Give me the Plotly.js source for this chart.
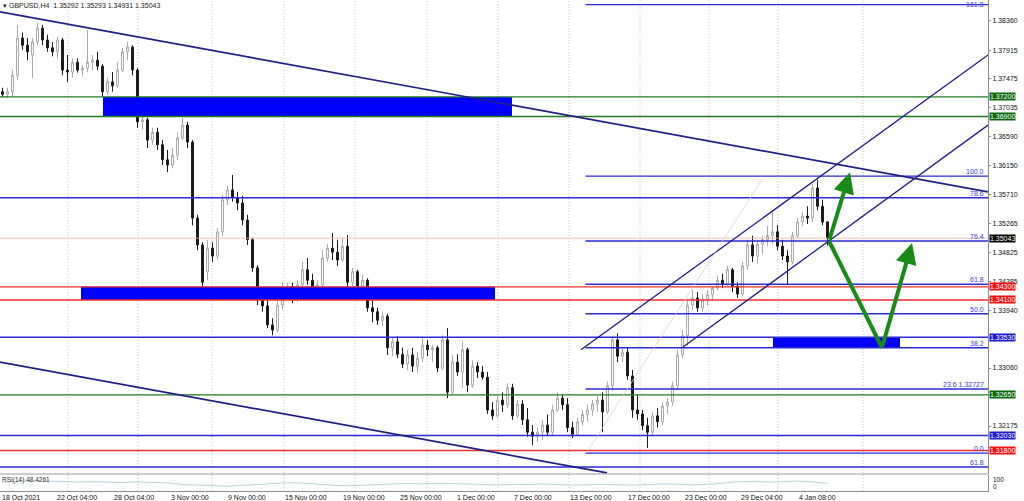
<!DOCTYPE html>
<html><head><meta charset="utf-8">
<script src="https://cdn.plot.ly/plotly-3.0.1.min.js"></script>
<style>html,body{margin:0;padding:0;background:#fff}#chart{width:1024px;height:501px}</style>
</head><body><div id="chart"></div>
<script>
// ---- candle data (GBPUSD H4, one candle ≈ two H4 bars) ----
const openP = [1.3728,1.3724,1.3728,1.3753,1.3810,1.3799,1.3784,1.3804,1.3825,1.3807,
1.3795,1.3789,1.3807,1.3761,1.3758,1.3773,1.3761,1.3764,1.3773,1.3776,
1.3767,1.3728,1.3743,1.3737,1.3761,1.3789,1.3796,1.3761,1.3682,1.3685,
1.3654,1.3666,1.3647,1.3624,1.3616,1.3631,1.3657,1.3677,1.3651,1.3535,
1.3494,1.3453,1.3489,1.3477,1.3514,1.3563,1.3578,1.3566,1.3558,1.3532,
1.3502,1.3459,1.3410,1.3401,1.3372,1.3364,1.3402,1.3425,1.3430,1.3413,
1.3433,1.3456,1.3440,1.3428,1.3433,1.3474,1.3489,1.3483,1.3471,1.3492,
1.3437,1.3453,1.3431,1.3440,1.3398,1.3392,1.3379,1.3385,1.3337,1.3346,
1.3327,1.3312,1.3326,1.3309,1.3321,1.3341,1.3334,1.3337,1.3306,1.3349,
1.3269,1.3315,1.3300,1.3334,1.3280,1.3309,1.3300,1.3292,1.3242,1.3233,
1.3257,1.3250,1.3276,1.3233,1.3251,1.3227,1.3208,1.3202,1.3208,1.3219,
1.3208,1.3242,1.3260,1.3250,1.3215,1.3205,1.3224,1.3235,1.3242,1.3251,
1.3257,1.3239,1.3279,1.3349,1.3324,1.3330,1.3294,1.3242,1.3236,1.3218,
1.3208,1.3233,1.3224,1.3248,1.3254,1.3279,1.3326,1.3355,1.3402,1.3413,
1.3398,1.3410,1.3418,1.3428,1.3440,1.3434,1.3456,1.3431,1.3419,1.3462,
1.3494,1.3477,1.3495,1.3502,1.3508,1.3514,1.3492,1.3477,1.3468,1.3508,
1.3529,1.3538,1.3535,1.3581,1.3553,1.35292];
const highP = [1.3734,1.3734,1.3761,1.3830,1.3818,1.3810,1.3810,1.3833,1.3830,1.3815,
1.3804,1.3812,1.3810,1.3784,1.3779,1.3779,1.3769,1.3822,1.3784,1.3789,
1.3770,1.3749,1.3758,1.3773,1.3795,1.3804,1.3799,1.3764,1.3692,1.3688,
1.3673,1.3673,1.3654,1.3639,1.3642,1.3666,1.3688,1.3682,1.3654,1.3540,
1.3498,1.3502,1.3498,1.3520,1.3570,1.3585,1.3601,1.3575,1.3569,1.3540,
1.3505,1.3463,1.3421,1.3413,1.3382,1.3410,1.3437,1.3436,1.3436,1.3440,
1.3468,1.3474,1.3450,1.3440,1.3486,1.3495,1.3512,1.3502,1.3505,1.3509,
1.3459,1.3456,1.3448,1.3443,1.3410,1.3398,1.3392,1.3389,1.3352,1.3355,
1.3337,1.3334,1.3337,1.3330,1.3352,1.3349,1.3341,1.3340,1.3356,1.3367,
1.3326,1.3327,1.3346,1.3337,1.3318,1.3315,1.3309,1.3300,1.3254,1.3265,
1.3269,1.3283,1.3282,1.3257,1.3257,1.3245,1.3219,1.3215,1.3227,1.3235,
1.3250,1.3269,1.3265,1.3260,1.3224,1.3230,1.3242,1.3250,1.3257,1.3263,
1.3269,1.3285,1.3355,1.3359,1.3337,1.3337,1.3303,1.3265,1.3242,1.3230,
1.3239,1.3245,1.3254,1.3260,1.3285,1.3334,1.3364,1.3410,1.3425,1.3422,
1.3419,1.3425,1.3431,1.3447,1.3450,1.3462,1.3459,1.3437,1.3468,1.3502,
1.3508,1.3502,1.3508,1.3523,1.3544,1.3524,1.3502,1.3486,1.3514,1.3535,
1.3544,1.3553,1.3587,1.3593,1.3563,1.35293];
const lowP = [1.3720,1.3718,1.3721,1.3746,1.3792,1.3776,1.3749,1.3799,1.3799,1.3789,
1.3782,1.3779,1.3753,1.3743,1.3749,1.3757,1.3753,1.3758,1.3761,1.3761,
1.3720,1.3723,1.3728,1.3734,1.3758,1.3776,1.3753,1.3673,1.3670,1.3642,
1.3647,1.3639,1.3616,1.3605,1.3611,1.3624,1.3654,1.3642,1.3524,1.3486,
1.3430,1.3440,1.3468,1.3471,1.3508,1.3555,1.3560,1.3547,1.3524,1.3494,
1.3453,1.3402,1.3392,1.3367,1.3356,1.3361,1.3395,1.3413,1.3405,1.3407,
1.3425,1.3433,1.3421,1.3413,1.3425,1.3468,1.3471,1.3462,1.3468,1.3428,
1.3431,1.3425,1.3425,1.3392,1.3376,1.3372,1.3370,1.3326,1.3324,1.3321,
1.3306,1.3303,1.3300,1.3298,1.3315,1.3324,1.3315,1.3300,1.3303,1.3260,
1.3265,1.3294,1.3276,1.3269,1.3276,1.3291,1.3288,1.3236,1.3227,1.3230,
1.3239,1.3245,1.3227,1.3230,1.3219,1.3201,1.3188,1.3193,1.3196,1.3202,
1.3204,1.3239,1.3242,1.3208,1.3199,1.3202,1.3218,1.3224,1.3233,1.3239,
1.3208,1.3236,1.3272,1.3315,1.3315,1.3288,1.3230,1.3227,1.3211,1.3184,
1.3202,1.3215,1.3218,1.3236,1.3248,1.3272,1.3321,1.3340,1.3395,1.3392,
1.3392,1.3401,1.3410,1.3425,1.3428,1.3431,1.3422,1.3413,1.3416,1.3456,
1.3468,1.3465,1.3480,1.3492,1.3495,1.3486,1.3471,1.3433,1.3465,1.3505,
1.3523,1.3526,1.3529,1.3547,1.3524,1.34931];
const closeP = [1.3724,1.3728,1.3753,1.3810,1.3799,1.3789,1.3804,1.3825,1.3807,1.3795,
1.3789,1.3807,1.3761,1.3758,1.3773,1.3761,1.3764,1.3773,1.3776,1.3767,
1.3728,1.3743,1.3737,1.3761,1.3789,1.3796,1.3761,1.3682,1.3685,1.3654,
1.3666,1.3647,1.3624,1.3616,1.3631,1.3657,1.3677,1.3651,1.3535,1.3494,
1.3437,1.3489,1.3477,1.3514,1.3563,1.3578,1.3566,1.3558,1.3532,1.3502,
1.3459,1.3410,1.3401,1.3372,1.3364,1.3402,1.3425,1.3430,1.3413,1.3433,
1.3456,1.3440,1.3428,1.3433,1.3474,1.3489,1.3483,1.3471,1.3492,1.3437,
1.3453,1.3431,1.3440,1.3398,1.3392,1.3379,1.3385,1.3337,1.3346,1.3327,
1.3312,1.3326,1.3309,1.3321,1.3341,1.3334,1.3337,1.3306,1.3349,1.3269,
1.3315,1.3300,1.3334,1.3280,1.3309,1.3300,1.3292,1.3242,1.3233,1.3257,
1.3250,1.3276,1.3233,1.3251,1.3227,1.3208,1.3202,1.3208,1.3219,1.3208,
1.3242,1.3260,1.3250,1.3215,1.3205,1.3224,1.3235,1.3242,1.3251,1.3257,
1.3239,1.3279,1.3349,1.3324,1.3330,1.3294,1.3242,1.3236,1.3218,1.3208,
1.3233,1.3224,1.3248,1.3254,1.3279,1.3326,1.3355,1.3402,1.3413,1.3398,
1.3410,1.3418,1.3428,1.3440,1.3434,1.3456,1.3431,1.3419,1.3462,1.3494,
1.3477,1.3495,1.3502,1.3508,1.3514,1.3492,1.3477,1.3468,1.3508,1.3529,
1.3538,1.3535,1.3581,1.3553,1.3529,1.35043];

// RSI(14), one reading every 3 candles
const rsiVals = [55,60,64,62,58,56,58,55,53,57,55,50,40,36,33,30,35,42,48,52,
50,42,36,32,34,40,44,47,45,48,46,43,40,38,42,40,44,41,37,39,
42,39,37,40,45,42,38,41,50,58,60,56,58,62,57,48];

// time axis labels and the candle index where each label starts
const tickLabels = ["18 Oct 2021","22 Oct 04:00","28 Oct 04:00","3 Nov 00:00","9 Nov 00:00","15 Nov 00:00","19 Nov 00:00","25 Nov 00:00","1 Dec 00:00","7 Dec 00:00","13 Dec 00:00","17 Dec 00:00","23 Dec 00:00","29 Dec 04:00","4 Jan 08:00"];
const tickBars = [-0.5,10.5,21.9,33.3,44.7,56.1,67.7,79.1,90.5,101.9,113.1,124.7,136.1,147.3,158.9];
const gridBars = [13.1,27.1,41.9,56.3,70.5,84.9,99.1,113.3,127.5,141.3,155.1,172.1];

// price axis
const priceTicks = [1.38360,1.37915,1.37475,1.37035,1.36590,1.36150,1.35710,1.35265,1.34825,1.34385,1.33940,1.33060,1.32175];

// horizontal levels across the whole chart
const levelPrices = [1.3720,1.3690,1.3566,1.3430,1.3410,1.3353,1.3265,1.3203,1.3180,1.3155];
const levelKinds  = ["green","green","blue","red","red","blue","green","blue","red","blue"];
// price boxes on the right scale
const boxPrices = [1.37200,1.36900,1.35043,1.34300,1.34100,1.33530,1.32650,1.32030,1.31800];
const boxKinds  = ["green","green","black","red","red","blue","green","blue","red"];
// Fibonacci retracement
const fibRatios = ["161.8","100.0","76.4","61.8","50.0","38.2","23.6 1.32727","0.0"];
const fibPrices = [1.3861,1.3599,1.3500,1.3434,1.3389,1.3337,1.3274,1.3176];
const fibStartBar = 116.6;
// supply / demand zones
const zoneStart = [20.1,15.7,154.1];
const zoneEnd   = [101.9,98.5,179.5];
const zoneTop   = [1.3720,1.3430,1.3353];
const zoneBot   = [1.3690,1.3410,1.3337];
// trend lines [bar0, price0, bar1, price1]
const trendA = [-0.5,1.3850,197.1,1.3575];
const trendB = [-0.5,1.3315,120.9,1.3146];
const chanUp = [115.7,1.3334,197.1,1.3784];
const chanLo = [136.1,1.3338,197.1,1.3677];
const fibTrend = [116.9,1.3178,152.1,1.3596];
// projected path (green arrows)
const pathBars = [165.3,169.5,175.9,181.9];
const pathPrices = [1.3500,1.3605,1.3337,1.3497];

const X_END = 197.1, X_START = -0.5;
const colors = {green:"#1f7d1f", blue:"#2a2ad8", red:"#ec2e2e", black:"#000000", navy:"#1f1f86"};
const boxBg = {green:"#0a6a0a", blue:"#1a1ad0", red:"#f01010", black:"#000000"};

const idx = openP.map((_,i)=>i);
const rsiX = rsiVals.map((_,i)=>i*3);

const FONT = "Liberation Sans, Arial, sans-serif";
const traces = [
  {type:"candlestick", x:idx, open:openP, high:highP, low:lowP, close:closeP,
   xaxis:"x", yaxis:"y", whiskerwidth:0,
   increasing:{line:{color:"#a9a9a9",width:1}, fillcolor:"#ffffff"},
   decreasing:{line:{color:"#1a1a1a",width:1}, fillcolor:"#1a1a1a"},
   hoverinfo:"skip", showlegend:false},
  {type:"scatter", mode:"lines", x:rsiX, y:rsiVals, xaxis:"x", yaxis:"y2",
   line:{color:"#bcd3da", width:1}, hoverinfo:"skip", showlegend:false}
];

const shapes = [];
const annotations = [];
// grid
gridBars.forEach(g=>shapes.push({type:"line", xref:"x", yref:"paper", x0:g, x1:g, y0:0, y1:1,
  line:{color:"#c4c4c4", width:1, dash:"1px,2px"}, layer:"below"}));
// zones
zoneStart.forEach((s,i)=>shapes.push({type:"rect", xref:"x", yref:"y", x0:s, x1:zoneEnd[i], y0:zoneBot[i], y1:zoneTop[i],
  fillcolor:"#0000ff", line:{width:0}, layer:"above"}));
// full levels
levelPrices.forEach((p,i)=>shapes.push({type:"line", xref:"x", yref:"y", x0:X_START, x1:X_END, y0:p, y1:p,
  line:{color:colors[levelKinds[i]], width:1.4}}));
// current price line
shapes.push({type:"line", xref:"x", yref:"y", x0:X_START, x1:X_END, y0:closeP[closeP.length-1], y1:closeP[closeP.length-1],
  line:{color:"#f0b8a8", width:0.8}});
// fib
fibPrices.forEach((p,i)=>{
  shapes.push({type:"line", xref:"x", yref:"y", x0:fibStartBar, x1:X_END, y0:p, y1:p, line:{color:colors.blue, width:1.4}});
  annotations.push({xref:"x", yref:"y", x:X_END, y:p, xanchor:"right", yanchor: i===0 ? "top" : "bottom", xshift:-2, yshift: i===0 ? 6 : -1,
    text:fibRatios[i], showarrow:false, font:{family:FONT, size:7, color:"#3a3ad8"}});
});
annotations.push({xref:"x", yref:"y", x:X_END, y:levelPrices[2], xanchor:"right", yanchor:"bottom", xshift:-2, yshift:-1,
  text:"78.6", showarrow:false, font:{family:FONT, size:7, color:"#3a3ad8"}});
annotations.push({xref:"x", yref:"y", x:X_END, y:levelPrices[9], xanchor:"right", yanchor:"bottom", xshift:-2, yshift:-1,
  text:"61.8", showarrow:false, font:{family:FONT, size:7, color:"#3a3ad8"}});
// trend lines
[[trendA,colors.navy,1.7],[trendB,colors.navy,1.7],[chanUp,colors.navy,1.3],[chanLo,colors.navy,1.3],[fibTrend,"#f2c8bc",0.8]].forEach(([t,c,w])=>
  shapes.push({type:"line", xref:"x", yref:"y", x0:t[0], y0:t[1], x1:t[2], y1:t[3], line:{color:c, width:w}}));
// projected path
shapes.push({type:"line", xref:"x", yref:"y", x0:pathBars[0], y0:pathPrices[0], x1:pathBars[2], y1:pathPrices[2],
  line:{color:"#178a17", width:4}});
annotations.push({xref:"x", yref:"y", axref:"x", ayref:"y", x:pathBars[1], y:pathPrices[1], ax:pathBars[0], ay:pathPrices[0],
  text:"", showarrow:true, arrowhead:2, arrowsize:1.05, arrowwidth:4, arrowcolor:"#178a17"});
annotations.push({xref:"x", yref:"y", axref:"x", ayref:"y", x:pathBars[3], y:pathPrices[3], ax:pathBars[2], ay:pathPrices[2],
  text:"", showarrow:true, arrowhead:2, arrowsize:1.05, arrowwidth:4, arrowcolor:"#178a17"});
// separator between panels
shapes.push({type:"line", xref:"paper", yref:"paper", x0:0, x1:1, y0:17/491, y1:17/491, line:{color:"#9a9a9a", width:1}});
// right price boxes
boxPrices.forEach((p,i)=>annotations.push({xref:"paper", yref:"y", x:1, y:p, xanchor:"left", yanchor:"middle", xshift:1,
  text:p.toFixed(5), showarrow:false, bgcolor:boxBg[boxKinds[i]], borderpad:0,
  font:{family:FONT, size:7, color:"#ffffff"}}));
// time labels
tickLabels.forEach((t,i)=>annotations.push({xref:"x", yref:"paper", x:tickBars[i], y:0, xanchor:"left", yanchor:"top", yshift:-1,
  text:t, showarrow:false, font:{family:FONT, size:7, color:"#111"}}));
// title
annotations.push({xref:"paper", yref:"paper", x:0, y:1, xanchor:"left", yanchor:"top", xshift:1, yshift:0,
  text:"▾ GBPUSD,H4  1.35292 1.35293 1.34931 1.35043", showarrow:false, font:{family:FONT, size:7, color:"#222"}});
// RSI label and scale
annotations.push({xref:"paper", yref:"paper", x:0, y:(491-480)/491, xanchor:"left", yanchor:"middle", xshift:0,
  text:"RSI(14) 48.4261", showarrow:false, font:{family:FONT, size:6.5, color:"#333"}});
annotations.push({xref:"paper", yref:"paper", x:1, y:(491-479)/491, xanchor:"left", yanchor:"middle", xshift:3,
  text:"100", showarrow:false, font:{family:FONT, size:6.5, color:"#111"}});
annotations.push({xref:"paper", yref:"paper", x:1, y:(491-486)/491, xanchor:"left", yanchor:"middle", xshift:3,
  text:"0", showarrow:false, font:{family:FONT, size:6.5, color:"#111"}});

const layout = {
  width:1024, height:501,
  margin:{l:0, r:36, t:0, b:10, pad:0},
  paper_bgcolor:"#ffffff", plot_bgcolor:"#ffffff",
  showlegend:false, boxgap:0.45,
  font:{family:FONT, size:7, color:"#111"},
  xaxis:{range:[X_START, X_END], anchor:"y2", showgrid:false, zeroline:false, showticklabels:false,
         showline:true, linecolor:"#8c8c8c", linewidth:1, rangeslider:{visible:false}, fixedrange:true},
  yaxis:{domain:[17/491,1], range:[1.31442,1.3868], side:"right", tickvals:priceTicks,
         ticktext:priceTicks.map(v=>v.toFixed(5)), tickfont:{family:FONT, size:7, color:"#111"},
         ticks:"outside", ticklen:2, tickcolor:"#8c8c8c", showgrid:false, zeroline:false,
         showline:true, linecolor:"#8c8c8c", linewidth:1, fixedrange:true},
  yaxis2:{domain:[0,16/491], range:[0,100], side:"right", showticklabels:false, showgrid:false, zeroline:false,
         showline:true, linecolor:"#8c8c8c", linewidth:1, fixedrange:true},
  shapes, annotations
};
Plotly.newPlot("chart", traces, layout, {staticPlot:true, displayModeBar:false});
</script></body></html>
